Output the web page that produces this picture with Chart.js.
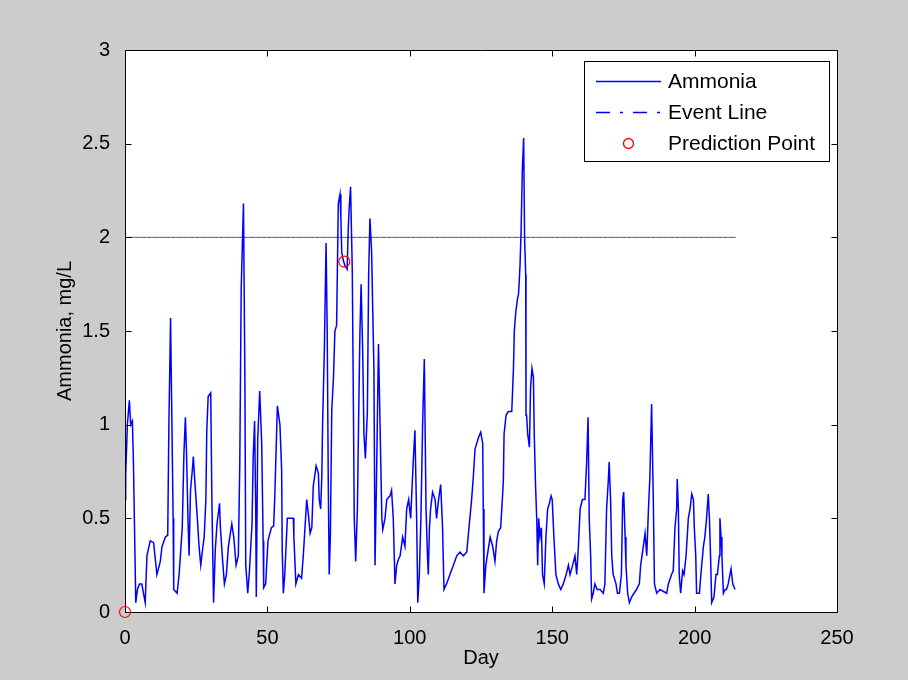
<!DOCTYPE html>
<html>
<head>
<meta charset="utf-8">
<script src="https://cdn.jsdelivr.net/npm/chart.js@4.4.1/dist/chart.umd.min.js"></script>
<style>
  html, body { margin: 0; padding: 0; background: #cccccc; }
  #wrap { width: 908px; height: 680px; }
</style>
</head>
<body>
<div id="wrap"><canvas id="c" width="908" height="680"></canvas></div>
<script>
// ---- Data ----
const days = [
  0, 0.24, 0.83, 1.54, 2.0, 2.6, 2.96, 3.43, 3.78, 4.37,
  5.08, 5.9, 6.5, 7.1, 7.7, 8.87, 10.05, 11.2, 12.4, 13.0,
  14.2, 15.0, 15.4, 16.0, 16.3, 16.9, 17.1, 18.3, 19.0, 20.1,
  20.7, 21.2, 21.6, 22.1, 22.5, 23.0, 23.6, 24.0, 24.5, 25.4,
  26.0, 26.6, 27.2, 27.8, 28.4, 28.7, 29.2, 30.1, 30.5, 31.1,
  31.7, 32.3, 33.2, 33.5, 34.3, 34.9, 35.6, 36.3, 37.5, 38.2,
  39.0, 39.8, 40.3, 40.8, 41.6, 42.1, 42.4, 43.1, 43.7, 44.6,
  45.0, 45.5, 45.9, 46.1, 46.6, 47.3, 48.0, 48.5, 48.7, 49.4,
  50.2, 51.4, 52.2, 52.6, 53.5, 54.4, 55.0, 55.2, 55.6, 56.1,
  57.0, 59.1, 59.3, 60.0, 60.9, 62.0, 62.6, 63.2, 63.8, 64.4,
  65.0, 65.6, 66.1, 67.1, 67.9, 68.2, 68.7, 69.1, 69.4, 70.0,
  70.6, 71.0, 71.4, 71.7, 72.1, 72.6, 73.2, 73.7, 74.3, 74.9,
  75.5, 75.8, 76.1, 76.6, 77.2, 78.0, 78.4, 78.7, 79.2, 79.8,
  80.2, 80.5, 81.0, 81.6, 82.05, 82.5, 82.9, 83.45, 83.9, 84.4,
  85.1, 85.55, 86.0, 86.6, 87.0, 87.4, 87.8, 88.4, 89.0, 89.3,
  89.8, 90.2, 90.5, 91.3, 91.9, 93.05, 93.6, 94.2, 94.8, 95.4,
  96.0, 96.6, 97.5, 98.3, 98.9, 99.6, 100.3, 101.2, 101.8, 102.4,
  102.8, 103.35, 103.9, 104.5, 105.1, 105.7, 106.2, 106.5, 106.9, 107.3,
  108.0, 108.9, 109.4, 110.1, 110.85, 111.5, 112.0, 112.9, 114.1, 115.3,
  116.5, 117.6, 118.8, 120.0, 120.6, 121.7, 122.3, 122.9, 124.1, 124.9,
  125.6, 125.8, 126.05, 126.7, 127.2, 128.2, 129.1, 129.9, 130.5, 131.1,
  131.9, 132.3, 132.85, 133.1, 133.8, 134.6, 135.8, 136.4, 136.7, 137.2,
  137.8, 138.2, 138.7, 139.05, 139.5, 139.98, 140.3, 140.7, 140.8, 141.0,
  141.4, 142.0, 142.4, 142.9, 143.4, 143.7, 144.1, 144.6, 144.9, 145.25,
  145.7, 146.2, 146.6, 147.2, 147.8, 148.4, 149.0, 149.6, 150.0, 150.6,
  151.3, 152.15, 153.0, 153.9, 154.9, 155.7, 156.25, 157.2, 158.0, 158.6,
  159.2, 159.8, 160.6, 161.5, 162.1, 162.6, 163.0, 163.5, 163.85, 164.4,
  165.0, 165.8, 166.8, 167.95, 168.5, 169.1, 169.7, 170.0, 170.5, 170.9,
  171.4, 172.4, 172.9, 173.6, 174.3, 174.75, 175.1, 175.6, 175.9, 176.5,
  177.1, 177.9, 178.7, 179.6, 180.6, 181.06, 182.0, 182.6, 183.2, 183.8,
  184.3, 184.9, 185.5, 185.9, 186.7, 187.85, 190.2, 190.8, 191.9, 192.5,
  193.1, 193.7, 193.9, 194.3, 194.6, 195.1, 195.8, 196.3, 197.0, 197.8,
  198.4, 199.0, 199.6, 199.9, 200.4, 200.7, 201.7, 202.2, 203.1, 203.6,
  204.2, 204.8, 205.2, 205.6, 206.0, 206.8, 207.5, 208.0, 208.7, 208.9,
  209.3, 209.6, 210.1, 210.7, 211.2, 211.8, 212.4, 212.8, 213.4, 214.2
];
const ammonia = [
  0.6, 0.73, 1.0, 1.13, 1.0, 1.02, 0.8, 0.37, 0.05, 0.12,
  0.15, 0.15, 0.1, 0.05, 0.3, 0.38, 0.37, 0.2, 0.27, 0.35,
  0.4, 0.41, 0.99, 1.57, 1.21, 0.5, 0.12, 0.1, 0.2, 0.45,
  0.85, 1.04, 0.85, 0.5, 0.3, 0.65, 0.75, 0.83, 0.7, 0.5,
  0.35, 0.25, 0.33, 0.4, 0.6, 0.96, 1.15, 1.17, 0.6, 0.05,
  0.33, 0.47, 0.58, 0.45, 0.27, 0.15, 0.2, 0.35, 0.47, 0.4,
  0.25, 0.3, 0.79, 1.73, 2.18, 1.23, 0.25, 0.1, 0.22, 0.47,
  0.82, 1.02, 0.55, 0.08, 0.92, 1.18, 0.9, 0.38, 0.13, 0.15,
  0.38, 0.45, 0.46, 0.62, 1.1, 1.0, 0.76, 0.33, 0.1, 0.2,
  0.5, 0.5, 0.4, 0.15, 0.2, 0.18, 0.3, 0.45, 0.6, 0.52,
  0.42, 0.45, 0.67, 0.78, 0.74, 0.6, 0.55, 0.72, 1.02, 1.4,
  1.97, 1.5, 0.65, 0.2, 0.4, 1.08, 1.25, 1.5, 1.53, 2.18,
  2.23, 2.1, 1.92, 1.88, 1.85, 1.83, 2.05, 2.15, 2.27, 1.83,
  1.1, 0.5, 0.27, 0.55, 1.05, 1.5, 1.75, 1.4, 0.95, 0.82,
  1.07, 1.8, 2.1, 1.92, 1.6, 1.3, 0.25, 0.8, 1.43, 1.2,
  0.8, 0.5, 0.44, 0.5, 0.6, 0.62, 0.65, 0.5, 0.15, 0.25,
  0.28, 0.3, 0.4, 0.35, 0.55, 0.6, 0.5, 0.8, 0.97, 0.5,
  0.05, 0.2, 0.5, 1.0, 1.35, 0.55, 0.3, 0.2, 0.45, 0.55,
  0.64, 0.6, 0.5, 0.6, 0.68, 0.45, 0.12, 0.15, 0.2, 0.25,
  0.3, 0.32, 0.3, 0.32, 0.42, 0.6, 0.72, 0.87, 0.93, 0.96,
  0.9, 0.55, 0.1, 0.25, 0.3, 0.4, 0.35, 0.27, 0.38, 0.43,
  0.45, 0.55, 0.7, 0.95, 1.05, 1.07, 1.07, 1.3, 1.5, 1.6,
  1.67, 1.7, 1.85, 2.02, 2.35, 2.53, 2.0, 1.8, 1.05, 1.05,
  0.95, 0.88, 1.2, 1.3, 1.25, 0.95, 0.7, 0.48, 0.25, 0.5,
  0.4, 0.45, 0.2, 0.15, 0.4, 0.55, 0.58, 0.62, 0.6, 0.4,
  0.2, 0.15, 0.12, 0.15, 0.2, 0.25, 0.2, 0.25, 0.3, 0.2,
  0.35, 0.55, 0.6, 0.6, 0.8, 1.04, 0.5, 0.3, 0.07, 0.1,
  0.15, 0.12, 0.12, 0.1, 0.15, 0.55, 0.7, 0.8, 0.6, 0.3,
  0.2, 0.15, 0.1, 0.1, 0.2, 0.6, 0.64, 0.4, 0.25, 0.1,
  0.05, 0.08, 0.1, 0.12, 0.15, 0.25, 0.35, 0.42, 0.3, 0.55,
  0.72, 1.11, 0.6, 0.15, 0.1, 0.12, 0.1, 0.15, 0.2, 0.22,
  0.45, 0.55, 0.71, 0.55, 0.2, 0.1, 0.22, 0.2, 0.3, 0.5,
  0.55, 0.63, 0.6, 0.45, 0.3, 0.1, 0.1, 0.2, 0.35, 0.4,
  0.5, 0.63, 0.5, 0.3, 0.05, 0.08, 0.2, 0.2, 0.3, 0.5,
  0.4, 0.3, 0.1, 0.12, 0.12, 0.15, 0.2, 0.23, 0.15, 0.12
];
const eventDays = [0, 214.5];
const eventLevel = [2, 2];
const predictionDays = [0, 77];
const predictionValues = [0, 1.87];
const xTicks = [0, 50, 100, 150, 200, 250];
const yTicks = [0, 0.5, 1, 1.5, 2, 2.5, 3];
const xTickLabels = ['0', '50', '100', '150', '200', '250'];
const yTickLabels = ['0', '0.5', '1', '1.5', '2', '2.5', '3'];
const legendLabels = ['Ammonia', 'Event Line', 'Prediction Point'];

// ---- Build datasets ----
const toXY = (xs, ys) => xs.map((x, i) => ({ x: x, y: ys[i] }));
const FONT = 'Liberation Sans, Arial, Helvetica, sans-serif';
const BLUE = '#0000ff';
const RED = '#ff0000';

const eventColors = ['#3030ff', '#d0209a', '#20a040'];
const eventSets = eventColors.map((col, k) => ({
  label: k === 0 ? legendLabels[1] : '_event' + k,
  data: toXY(eventDays, eventLevel),
  borderColor: col,
  borderWidth: 1,
  borderDash: [2, 4],
  borderDashOffset: k * 2,
  pointRadius: 0,
  fill: false
}));

const plotFrame = {
  id: 'plotFrame',
  beforeDraw(chart) {
    const a = chart.chartArea, ctx = chart.ctx;
    ctx.save();
    ctx.fillStyle = '#ffffff';
    ctx.fillRect(a.left, a.top, a.right - a.left, a.bottom - a.top);
    ctx.restore();
  },
  afterDraw(chart) {
    const a = chart.chartArea, ctx = chart.ctx;
    const xs = chart.scales.x, ys = chart.scales.y;
    const L = Math.round(a.left) + 0.5, R = Math.round(a.right) + 0.5;
    const T = Math.round(a.top) + 0.5, B = Math.round(a.bottom) + 0.5;
    ctx.save();
    ctx.strokeStyle = '#000000';
    ctx.lineWidth = 1;
    ctx.beginPath();
    ctx.rect(L, T, R - L, B - T);
    const tl = 6;
    xTicks.forEach(v => {
      const px = Math.round(xs.getPixelForValue(v)) + 0.5;
      ctx.moveTo(px, B); ctx.lineTo(px, B - tl);
      ctx.moveTo(px, T); ctx.lineTo(px, T + tl);
    });
    yTicks.forEach(v => {
      const py = Math.round(ys.getPixelForValue(v)) + 0.5;
      ctx.moveTo(L, py); ctx.lineTo(L + tl, py);
      ctx.moveTo(R, py); ctx.lineTo(R - tl, py);
    });
    ctx.stroke();

    // Prediction points drawn on top of the frame
    const meta = chart.getDatasetMeta(chart.data.datasets.length - 1);
    ctx.strokeStyle = RED;
    ctx.lineWidth = 1.2;
    meta.data.forEach(pt => {
      ctx.beginPath();
      ctx.arc(pt.x, pt.y, 5.5, 0, Math.PI * 2);
      ctx.stroke();
    });

    // Legend box (inside plot, top-right)
    const bx = 584.5, by = 61.5, bw = 245, bh = 100;
    ctx.fillStyle = '#ffffff';
    ctx.fillRect(bx, by, bw, bh);
    ctx.strokeStyle = '#000000';
    ctx.lineWidth = 1;
    ctx.strokeRect(bx, by, bw, bh);
    const rows = [81, 112, 143];
    const x0 = 596, x1 = 661, tx = 668;
    ctx.strokeStyle = BLUE; ctx.lineWidth = 1.3;
    ctx.beginPath(); ctx.moveTo(x0, rows[0] + 0.5); ctx.lineTo(x1, rows[0] + 0.5); ctx.stroke();
    ctx.setLineDash([14, 10, 3, 10]);
    ctx.beginPath(); ctx.moveTo(x0, rows[1] + 0.5); ctx.lineTo(x1 + 1, rows[1] + 0.5); ctx.stroke();
    ctx.setLineDash([]);
    ctx.strokeStyle = RED;
    ctx.beginPath(); ctx.arc((x0 + x1) / 2, rows[2] + 0.5, 5, 0, Math.PI * 2); ctx.stroke();
    ctx.fillStyle = '#000000';
    ctx.font = '21px ' + FONT;
    ctx.textBaseline = 'middle';
    ctx.textAlign = 'left';
    legendLabels.forEach((t, i) => ctx.fillText(t, tx, rows[i] + 1));
    ctx.restore();
  }
};

new Chart(document.getElementById('c'), {
  type: 'line',
  data: {
    datasets: [
      {
        label: legendLabels[0],
        data: toXY(days, ammonia),
        borderColor: BLUE,
        borderWidth: 1.5,
        pointRadius: 0,
        tension: 0,
        fill: false
      },
      ...eventSets,
      {
        label: legendLabels[2],
        data: toXY(predictionDays, predictionValues),
        showLine: false,
        pointRadius: 0,
        pointStyle: 'circle',
        borderColor: RED,
        backgroundColor: 'rgba(0,0,0,0)',
        clip: false
      }
    ]
  },
  options: {
    responsive: false,
    animation: false,
    devicePixelRatio: 1,
    layout: { padding: { top: 50, right: 71, left: 0, bottom: 0 } },
    plugins: { legend: { display: false }, tooltip: { enabled: false } },
    scales: {
      x: {
        type: 'linear',
        min: 0, max: 250,
        afterBuildTicks: s => { s.ticks = xTicks.map(v => ({ value: v })); },
        afterFit: s => { s.height = 68; },
        grid: { display: false },
        border: { display: false },
        ticks: {
          color: '#000', font: { family: FONT, size: 20 }, padding: 6, maxRotation: 0,
          callback: (v, i) => xTickLabels[xTicks.indexOf(v)]
        },
        title: { display: true, text: 'Day', color: '#000', font: { family: FONT, size: 20 }, padding: { top: 0, bottom: 10 } }
      },
      y: {
        type: 'linear',
        min: 0, max: 3,
        afterBuildTicks: s => { s.ticks = yTicks.map(v => ({ value: v })); },
        afterFit: s => { s.width = 125; },
        grid: { display: false },
        border: { display: false },
        ticks: {
          color: '#000', font: { family: FONT, size: 20 }, padding: 7,
          callback: (v, i) => yTickLabels[yTicks.indexOf(v)]
        },
        title: { display: true, text: 'Ammonia, mg/L', color: '#000', font: { family: FONT, size: 20 }, padding: { top: 53, bottom: 0 } }
      }
    }
  },
  plugins: [plotFrame]
});
</script>
</body>
</html>
